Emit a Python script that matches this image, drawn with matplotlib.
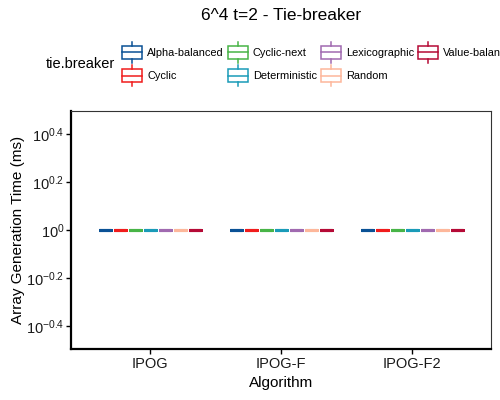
import numpy as np
import matplotlib
matplotlib.use("Agg")
import matplotlib.pyplot as plt
from matplotlib.legend_handler import HandlerBase
from matplotlib.patches import Rectangle
from matplotlib.lines import Line2D

plt.rcParams['font.family'] = ['Liberation Sans', 'DejaVu Sans']
plt.rcParams['mathtext.default'] = 'regular'

algorithms = ["IPOG", "IPOG-F", "IPOG-F2"]
tie_breakers = ["Alpha-balanced", "Cyclic", "Cyclic-next", "Deterministic",
                "Lexicographic", "Random", "Value-balanced"]
colors = ["#0a5195", "#f01c1c", "#48b447", "#1a9bb8", "#a06ab0", "#fdb79b", "#b50a36"]
# generation time (ms) per algorithm, per tie-breaker
times = {
    "IPOG":    [[1.0, 1.0, 1.0]] * 7,
    "IPOG-F":  [[1.0, 1.0, 1.0]] * 7,
    "IPOG-F2": [[1.0, 1.0, 1.0]] * 7,
}
ytick_exp = [-0.4, -0.2, 0, 0.2, 0.4]


class BoxHandler(HandlerBase):
    # ggplot style boxplot key
    def create_artists(self, legend, orig_handle, xdescent, ydescent,
                       width, height, fontsize, trans):
        c = orig_handle.get_color()
        x0 = -xdescent
        w = width
        h = height * 2.8
        yb = -ydescent + (height - h) / 2
        box = Rectangle((x0, yb + h * 0.2), w, h * 0.6, facecolor="white",
                        edgecolor=c, lw=1.1, transform=trans)
        med = Line2D([x0, x0 + w], [yb + h / 2] * 2, color=c, lw=1.1, transform=trans)
        wh1 = Line2D([x0 + w / 2] * 2, [yb, yb + h * 0.2], color=c, lw=1.1, transform=trans)
        wh2 = Line2D([x0 + w / 2] * 2, [yb + h * 0.8, yb + h], color=c, lw=1.1, transform=trans)
        return [box, med, wh1, wh2]


fig = plt.figure(figsize=(5, 4), dpi=100)
ax = fig.add_axes([0.142, 0.1275, 0.84, 0.595])

n = len(tie_breakers)
slot = 0.8 / n
for i, alg in enumerate(algorithms):
    for j, tb in enumerate(tie_breakers):
        pos = i + 1 - 0.4 + slot * (j + 0.5)
        props = dict(color=colors[j], lw=2.2, solid_capstyle="butt")
        ax.boxplot([times[alg][j]], positions=[pos], widths=slot * 0.8,
                   boxprops=props, medianprops=props, whiskerprops=props,
                   capprops=dict(lw=0), showfliers=False, manage_ticks=False)

ax.set_yscale("log")
ax.set_ylim(10 ** -0.496, 10 ** 0.496)
ax.set_yticks([10 ** e for e in ytick_exp])
ax.set_yticklabels(["$10^{%s}$" % (("%g" % e)) for e in ytick_exp])
ax.minorticks_off()
ax.set_xlim(0.4, 3.6)
ax.set_xticks(range(1, len(algorithms) + 1))
ax.set_xticklabels(algorithms)
ax.tick_params(labelsize=10.5, length=3.5, width=1, color="black",
               labelcolor="#1a1a1a", pad=2.5)
ax.tick_params(axis="y", pad=1.2)

for s in ["left", "bottom"]:
    ax.spines[s].set_linewidth(1.6)
for s in ["top", "right"]:
    ax.spines[s].set_linewidth(0.8)
    ax.spines[s].set_color("#333333")

ax.set_xlabel("Algorithm", fontsize=11, labelpad=3)
ax.set_ylabel("Array Generation Time (ms)", fontsize=11, labelpad=1)

fig.text(0.562, 0.96, "6^4 t=2 - Tie-breaker", ha="center", va="center", fontsize=12.5)
fig.text(0.092, 0.84, "tie.breaker", ha="left", va="center", fontsize=10.5)

handles = [Line2D([], [], color=c) for c in colors]
fig.legend(handles, tie_breakers, handler_map={Line2D: BoxHandler()},
           loc="center left", bbox_to_anchor=(0.244, 0.838), ncol=4, frameon=False,
           fontsize=7.9, handlelength=1.85, handletextpad=0.45, columnspacing=0.35,
           labelspacing=1.2, borderpad=0, borderaxespad=0)

fig.savefig("out.png", dpi=100)
